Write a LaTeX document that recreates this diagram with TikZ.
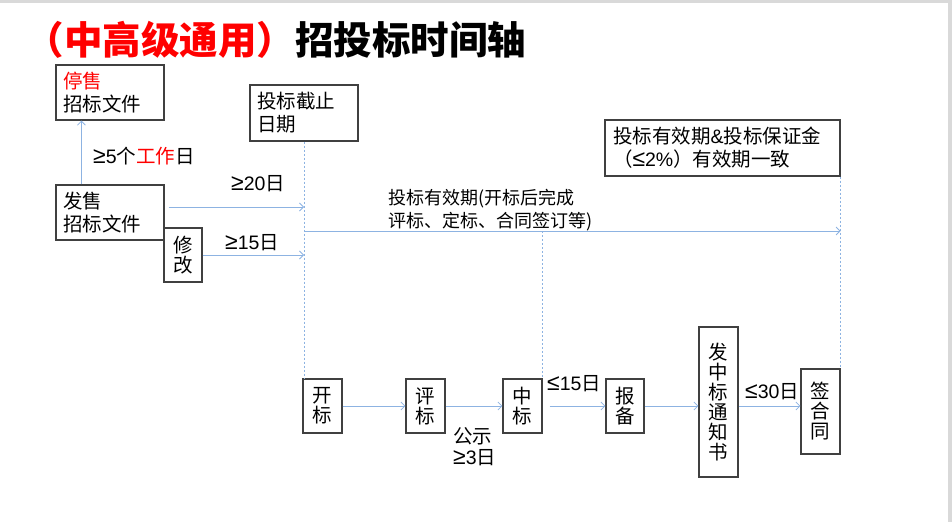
\documentclass[tikz,border=0pt]{standalone}
\usepackage{fontspec}
\setmainfont{Noto Sans CJK SC}
\newfontfamily\latinf{Liberation Sans}
\usetikzlibrary{arrows.meta}
\definecolor{framegray}{HTML}{404040}
\definecolor{flowblue}{HTML}{8DB3E2}
\definecolor{titlered}{HTML}{FF0000}
\definecolor{edgegray}{HTML}{D9D9D9}
\newcommand{\GE}{{\latinf\fontsize{23}{20}\selectfont ≥}}
\newcommand{\LE}{{\latinf\fontsize{23}{20}\selectfont ≤}}
\tikzstyle{box}=[draw=framegray, line width=1.2pt, fill=white, inner sep=0pt, align=center, font=\fontsize{19.5}{20}\selectfont]
\tikzstyle{wide box}=[box, inner xsep=7pt, align=left, font=\fontsize{19.5}{23}\selectfont]
\tikzstyle{note}=[inner sep=0pt, anchor=west, align=left, font=\fontsize{19.5}{21}\selectfont]
\tikzstyle{flow}=[draw=flowblue, line width=0.8pt, -{Straight Barb[length=4pt,width=8pt]}]
\tikzstyle{guide}=[draw=flowblue, line width=0.7pt, dash pattern=on 2pt off 2pt]

\begin{document}
\begin{tikzpicture}[x=1pt, y=-1pt]
  \useasboundingbox (0,0) rectangle (952,522);
  \fill[edgegray] (0,0) rectangle (952,3);
  \fill[edgegray] (948,0) rectangle (952,522);

  \node[anchor=west, inner sep=0pt, font=\fontsize{38.5}{40}\selectfont\bfseries] (title) at (25.5,40)
    {\textcolor{titlered}{（中高级通用）}招投标时间轴};

  % sale of the tender documents
  \node[wide box, text width=94pt, minimum height=55pt] (stop) at (110,92.5)
    {\textcolor{titlered}{停售}\\招标文件};
  \node[wide box, text width=94pt, minimum height=55pt] (sell) at (110,212.5)
    {发售\\招标文件};
  \node[box, minimum width=38pt, minimum height=54pt] (modify) at (183,255) {修\\改};
  \node[wide box, text width=94pt, minimum height=56pt] (deadline) at (304,113)
    {投标截止\\日期};
  \node[wide box, inner xsep=8pt, text width=219pt, minimum height=56pt] (validity) at (722.5,148)
    {投标有效期{\latinf\&}投标保证金\\（\LE{\latinf 2\%}）有效期一致};

  % timeline boxes
  \node[box, minimum width=39pt, minimum height=54pt] (open) at (322.5,406) {开\\标};
  \node[box, minimum width=39pt, minimum height=54pt] (review) at (425.5,406) {评\\标};
  \node[box, minimum width=39pt, minimum height=54pt] (award) at (522.5,406) {中\\标};
  \node[box, minimum width=38pt, minimum height=54pt] (report) at (625,406) {报\\备};
  \node[box, minimum width=39pt, minimum height=150pt] (notice) at (718.5,402)
    {发\\中\\标\\通\\知\\书};
  \node[box, minimum width=39pt, minimum height=85pt] (contract) at (820.5,411.5)
    {签\\合\\同};

  \node[note] (stopgap) at (93,156) {\GE{\latinf 5}个\textcolor{titlered}{工作}日};
  \node[note] (gap20) at (231,184) {\GE{\latinf 20}日};
  \node[note] (gap15) at (225,243) {\GE{\latinf 15}日};
  \node[note, font=\fontsize{18}{23}\selectfont] (validnote) at (388,210.5)
    {投标有效期(开标后完成\\评标、定标、合同签订等)};
  \node[note] (reportgap) at (547,384) {\LE{\latinf 15}日};
  \node[note] (publicity) at (453,446.5) {公示\\\GE{\latinf 3}日};
  \node[note] (signgap) at (745,392) {\LE{\latinf 30}日};

  \coordinate (d20) at (304,207);
  \coordinate (d15) at (304,255);
  \coordinate (vstart) at (304,231);

  \draw[guide] (deadline.south) -- (deadline.south |- open.north);
  \draw[guide] (award.north east |- vstart) -- (award.north east);
  \draw[guide] (validity.south east) -- (contract.north east);

  \draw[flow] ([xshift=26pt]sell.north west) -- ([xshift=26pt]stop.south west);
  \draw[flow] ([xshift=4pt, yshift=5.5pt]sell.east) -- (d20);
  \draw[flow] (modify.east) -- (d15);
  \draw[flow] (vstart) -- (validity.south east |- vstart);

  \draw[flow] (open.east) -- (review.west);
  \draw[flow] (review.east) -- (award.west);
  \draw[flow] ([xshift=7pt]award.east) -- (report.west);
  \draw[flow] (report.east) -- (report.east -| notice.west);
  \draw[flow] (report.east -| notice.east) -- (report.east -| contract.west);
\end{tikzpicture}
\end{document}
